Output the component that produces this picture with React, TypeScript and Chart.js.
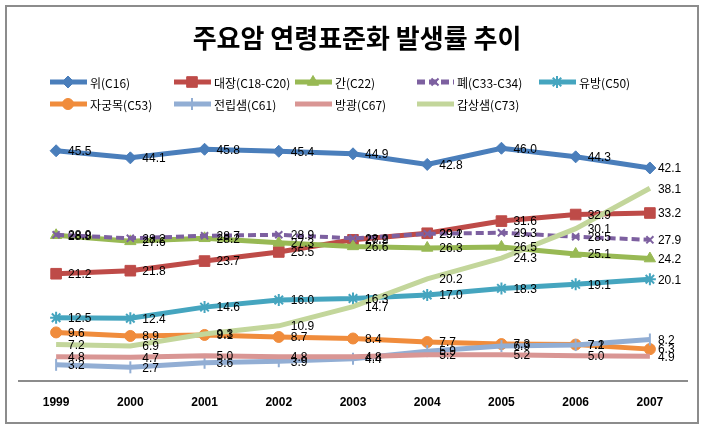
import React, { useEffect, useRef } from 'react';
import { Chart, registerables } from 'chart.js';
import { drawPoint } from 'chart.js/helpers';

Chart.register(...registerables);

const TITLE = '주요암 연령표준화 발생률 추이';
const years = ['1999', '2000', '2001', '2002', '2003', '2004', '2005', '2006', '2007'];

const stomach = [45.5, 44.1, 45.8, 45.4, 44.9, 42.8, 46.0, 44.3, 42.1];
const colorectum = [21.2, 21.8, 23.7, 25.5, 27.9, 29.2, 31.6, 32.9, 33.2];
const liver = [28.8, 27.6, 28.2, 27.3, 26.6, 26.3, 26.5, 25.1, 24.2];
const lung = [28.9, 28.2, 28.7, 28.9, 28.2, 29.1, 29.3, 28.5, 27.9];
const breast = [12.5, 12.4, 14.6, 16.0, 16.3, 17.0, 18.3, 19.1, 20.1];
const cervix = [9.6, 8.9, 9.1, 8.7, 8.4, 7.7, 7.3, 7.2, 6.3];
const prostate = [3.2, 2.7, 3.6, 3.9, 4.4, 5.9, 6.9, 7.1, 8.2];
const bladder = [4.8, 4.7, 5.0, 4.8, 4.8, 5.2, 5.2, 5.0, 4.9];
const thyroid = [7.2, 6.9, 9.3, 10.9, 14.7, 20.2, 24.3, 30.1, 38.1];

const seriesNames = ['위(C16)', '대장(C18-C20)', '간(C22)', '폐(C33-C34)', '유방(C50)', '자궁목(C53)', '전립샘(C61)', '방광(C67)', '갑상샘(C73)'];
const seriesValues = [stomach, colorectum, liver, lung, breast, cervix, prostate, bladder, thyroid];
const seriesColors = ['#4A7EBB', '#BE4B48', '#98B954', '#7D60A0', '#45A5BF', '#F08C3C', '#92AED4', '#D99694', '#C3D69B'];
const seriesMarkers: any[] = ['rectRot', 'rect', 'triangle', 'crossRot', 'star', 'circle', 'line', false, false];
const markerRadius = [6, 7.5, 6.5, 5, 6, 5.5, 6, 0, 0];
const markerRotation = [0, 0, 0, 0, 0, 0, 90, 0, 0];
const markerBorder = [1, 1, 1, 2, 2, 1, 2, 0, 0];
const dashed = [false, false, false, true, false, false, false, false, false];

const FONT_KR = '"Noto Sans CJK KR", "Noto Sans", sans-serif';
const FONT_NUM = '"Liberation Sans", Arial, sans-serif';

const decorPlugin = {
  id: 'decor',
  beforeDraw(chart: any) {
    const ctx = chart.ctx;
    ctx.save();
    ctx.fillStyle = '#ffffff';
    ctx.fillRect(0, 0, chart.width, chart.height);
    ctx.strokeStyle = '#8c8c8c';
    ctx.lineWidth = 2;
    ctx.strokeRect(6, 6, 692, 417);

    ctx.fillStyle = '#000';
    ctx.font = 'bold 26px ' + FONT_KR;
    ctx.textAlign = 'center';
    ctx.textBaseline = 'middle';
    ctx.fillText(TITLE, 357, 38);

    const cols = [50, 174, 295, 417, 539];
    const rows = [82, 104];
    chart.data.datasets.forEach((ds: any, i: number) => {
      const x0 = cols[i % 5];
      const y = rows[i < 5 ? 0 : 1];
      ctx.save();
      ctx.strokeStyle = seriesColors[i];
      ctx.lineWidth = 5;
      if (dashed[i]) ctx.setLineDash([8, 4]);
      ctx.beginPath();
      ctx.moveTo(x0, y);
      ctx.lineTo(x0 + 37, y);
      ctx.stroke();
      ctx.setLineDash([]);
      if (seriesMarkers[i]) {
        ctx.fillStyle = seriesColors[i];
        ctx.strokeStyle = seriesColors[i];
        ctx.lineWidth = markerBorder[i];
        drawPoint(ctx, { pointStyle: seriesMarkers[i], radius: markerRadius[i], rotation: markerRotation[i], borderWidth: markerBorder[i] } as any, x0 + 18, y);
      }
      ctx.restore();
      ctx.fillStyle = '#000';
      ctx.font = '12px ' + FONT_KR;
      ctx.textAlign = 'left';
      ctx.textBaseline = 'middle';
      ctx.fillText(ds.label, x0 + 40, y + 1);
    });
    ctx.restore();
  },
  afterDatasetsDraw(chart: any) {
    const ctx = chart.ctx;
    ctx.save();
    ctx.fillStyle = '#000';
    ctx.font = '12px ' + FONT_NUM;
    ctx.textAlign = 'left';
    ctx.textBaseline = 'middle';
    chart.data.datasets.forEach((ds: any, i: number) => {
      const meta = chart.getDatasetMeta(i);
      meta.data.forEach((el: any, j: number) => {
        const off = j === ds.data.length - 1 ? 8 : 12;
        ctx.fillText(Number(ds.data[j]).toFixed(1), el.x + off, el.y + 1);
      });
    });
    ctx.restore();
  },
};

export default function App() {
  const ref = useRef<HTMLCanvasElement | null>(null);
  useEffect(() => {
    document.body.style.margin = '0';
    const canvas = ref.current;
    if (!canvas) return;
    const chart = new Chart(canvas, {
      type: 'line',
      data: {
        labels: years,
        datasets: seriesNames.map((name, i) => ({
          label: name,
          data: seriesValues[i],
          borderColor: seriesColors[i],
          backgroundColor: seriesColors[i],
          borderWidth: dashed[i] ? 4 : 5,
          borderDash: dashed[i] ? [8, 4] : [],
          pointStyle: seriesMarkers[i],
          pointRadius: markerRadius[i],
          pointRotation: markerRotation[i],
          pointBorderWidth: markerBorder[i],
          pointBackgroundColor: seriesColors[i],
          pointBorderColor: seriesColors[i],
          tension: 0,
          fill: false,
          order: 8 - i,
        })),
      },
      options: {
        animation: false,
        responsive: false,
        maintainAspectRatio: false,
        devicePixelRatio: 1,
        layout: { padding: { top: 128, left: 19, right: 20, bottom: 0 } },
        plugins: {
          legend: { display: false },
          title: { display: false },
          tooltip: { enabled: false },
        },
        scales: {
          x: {
            type: 'category',
            offset: true,
            grid: { display: false, drawTicks: false },
            border: { display: true, color: '#8c8c8c', width: 2 },
            ticks: {
              color: '#000',
              font: { family: FONT_NUM, size: 12, weight: 'bold' },
              padding: 14,
              maxRotation: 0,
            },
            afterFit: (scale: any) => {
              scale.height = 49;
            },
          },
          y: {
            display: false,
            min: 0,
            max: 50,
          },
        },
      },
      plugins: [decorPlugin],
    } as any);
    return () => chart.destroy();
  }, []);
  return (
    <div style={{ position: 'absolute', left: 0, top: 0, width: 707, height: 430 }}>
      <canvas ref={ref} width={707} height={430} style={{ width: 707, height: 430, display: 'block' }} />
    </div>
  );
}
